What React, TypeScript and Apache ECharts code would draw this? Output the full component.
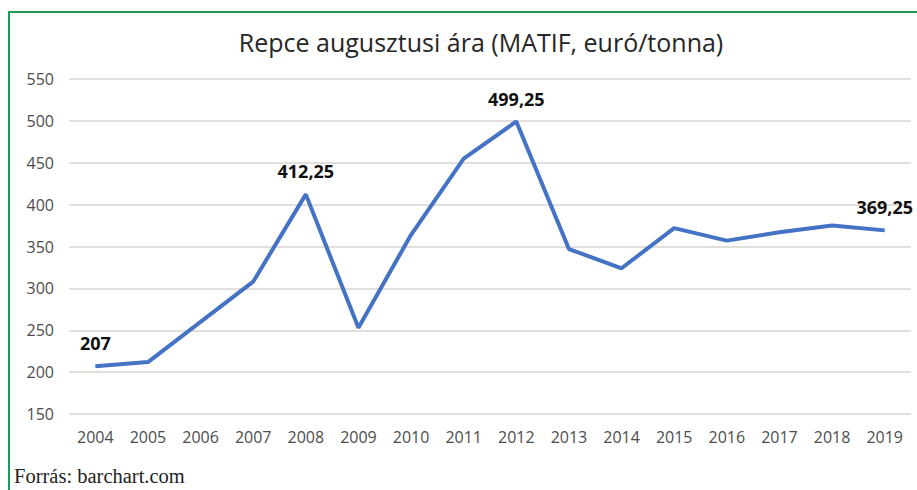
import React, { useEffect, useRef } from "react";
import * as echarts from "echarts";

const years = ["2004","2005","2006","2007","2008","2009","2010","2011","2012","2013","2014","2015","2016","2017","2018","2019"];
const prices = [207, 212, 260, 308, 412.25, 253, 364, 455, 499.25, 347, 324, 372, 357, 367, 375, 369.25];
const labeledYears = ["2004", "2008", "2012", "2019"];
const yTicks = { min: 150, max: 550, interval: 50 };
const titleText = "Repce augusztusi ára (MATIF, euró/tonna)";
const sourceText = "Forrás: barchart.com";

export default function App() {
  const ref = useRef<HTMLDivElement>(null);
  useEffect(() => {
    if (!ref.current) return;
    const chart = echarts.init(ref.current, undefined, { renderer: "svg" });
    const data = prices.map((v, i) => ({
      value: v,
      label: {
        show: labeledYears.includes(years[i]),
        formatter: String(v).replace(".", ","),
      },
    }));
    chart.setOption({
      animation: false,
      backgroundColor: "#ffffff",
      title: {
        text: titleText,
        left: 476,
        textAlign: "center",
        top: 24,
        textStyle: { fontFamily: "Open Sans", fontSize: 25, fontWeight: "normal", color: "#262626" },
      },
      grid: { left: 69, right: 6, top: 79, bottom: 76, containLabel: false },
      xAxis: {
        type: "category",
        data: years,
        boundaryGap: true,
        axisLine: { show: false },
        axisTick: { show: false },
        axisLabel: { fontFamily: "Open Sans", fontSize: 16, color: "#4d4d4d", margin: 15 },
      },
      yAxis: {
        type: "value",
        min: yTicks.min,
        max: yTicks.max,
        interval: yTicks.interval,
        axisLine: { show: false },
        axisTick: { show: false },
        splitLine: { lineStyle: { color: "#d9d3cf", width: 1.5 } },
        axisLabel: { fontFamily: "Open Sans", fontSize: 16, color: "#4d4d4d", margin: 15 },
      },
      series: [
        {
          type: "line",
          data,
          symbol: "circle",
          symbolSize: 0,
          showSymbol: true,
          itemStyle: { color: "#4472C4" },
          lineStyle: { color: "#4472C4", width: 4 },
          label: {
            position: "top",
            distance: 14,
            fontFamily: "Open Sans",
            fontSize: 18,
            fontWeight: "bold",
            color: "#111111",
          },
        },
      ],
      graphic: [
        {
          type: "rect",
          shape: { x: 9, y: 12, width: 1000, height: 600 },
          style: { fill: "none", stroke: "#1f9a55", lineWidth: 2 },
          silent: true,
        },
        {
          type: "text",
          left: 14,
          top: 465,
          style: { text: sourceText, font: "20.5px 'Liberation Serif', serif", fill: "#222222" },
        },
      ],
    });
    return () => chart.dispose();
  }, []);
  return (
    <div
      ref={ref}
      style={{ position: "fixed", left: 0, top: 0, width: 917, height: 490 }}
    />
  );
}
